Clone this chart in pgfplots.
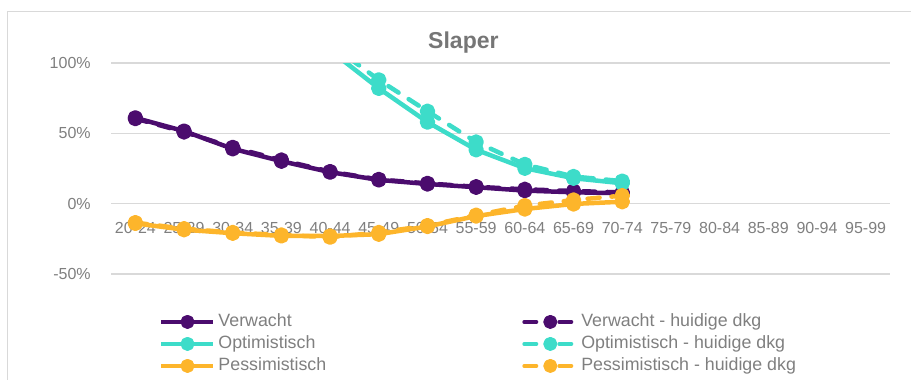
\documentclass[border=0pt]{standalone}
\usepackage{fontspec}
\setmainfont{Liberation Sans}
\usepackage{pgfplots}
\pgfplotsset{compat=1.18}

\definecolor{verw}{HTML}{4B0C6E}
\definecolor{opt}{HTML}{3DDCC9}
\definecolor{pess}{HTML}{FDB52B}
\definecolor{txtgray}{HTML}{7F7F7F}
\definecolor{titlegray}{HTML}{767676}
\definecolor{gridgray}{HTML}{D9D9D9}

% age classes 20-24 ... 95-99 plotted at 0..15
\pgfplotstableread{
x v vd
0 61.0 60.5
1 51.6 51.0
2 39.0 40.0
3 30.2 31.0
4 22.4 22.8
5 16.9 17.2
6 14.0 14.4
7 11.7 12.0
8 9.3 10.2
9 8.1 9.0
10 7.4 8.0
}\verwacht

\pgfplotstableread{
x o od
4 109.0 113.5
5 82.0 88.0
6 58.0 65.7
7 38.3 43.8
8 25.2 27.9
9 18.1 19.3
10 14.5 16.0
}\optimistisch

\pgfplotstableread{
x p pd
0 -14.0 -13.5
1 -18.5 -17.8
2 -21.0 -20.5
3 -22.9 -22.3
4 -23.0 -23.8
5 -21.7 -20.5
6 -16.2 -15.6
7 -8.8 -8.2
8 -3.8 -1.4
9 -0.2 2.6
10 1.4 5.7
}\pessimistisch

\pgfplotsset{
  solidser/.style={line width=4.5pt, line join=round, mark=*, mark size=5.5pt,
    mark options={solid}},
  dashser/.style={line width=4.5pt, line join=round, line cap=round,
    dash pattern=on 12pt off 12pt, mark=*, mark size=5.5pt, mark options={solid},
    legend image post style={dash pattern=on 12pt off 23pt}},
}

\begin{document}
\begin{tikzpicture}
\path[use as bounding box] (0pt,0pt) rectangle (911pt,-380pt);
\draw[gridgray, line width=1.5pt] (7.5pt,-380pt) -- (7.5pt,-11.5pt) -- (911pt,-11.5pt);
\node[anchor=base, text=titlegray, inner sep=0pt] at (463.4pt,-48.3pt)
  {\fontsize{23}{27}\selectfont\bfseries Slaper};
\begin{axis}[
  at={(111pt,-274pt)}, anchor=south west,
  scale only axis, width=779pt, height=211pt,
  xmin=-0.5, xmax=15.5, ymin=-50, ymax=100,
  axis x line=middle, axis y line=left,
  axis line style={draw=none},
  major tick style={draw=none},
  xtick={0,...,15},
  xticklabels={20-24,25-29,30-34,35-39,40-44,45-49,50-54,55-59,60-64,65-69,70-74,75-79,80-84,85-89,90-94,95-99},
  ytick={-50,0,50,100},
  yticklabels={-50\%,0\%,50\%,100\%},
  ymajorgrids, grid style={gridgray, line width=1.5pt},
  tick label style={text=txtgray, font=\fontsize{16}{19}\selectfont},
  xticklabel style={anchor=north, inner sep=0pt, yshift=-16pt},
  yticklabel style={anchor=east, inner sep=0pt, xshift=-18pt},
  clip=true,
  legend columns=2,
  legend style={draw=none, fill=none, text=txtgray,
    font=\fontsize{17.8}{21}\selectfont,
    at={(rel axis cs:0.062,-0.174)}, anchor=north west,
    inner sep=0pt, row sep=0pt,
    nodes={inner sep=3pt, text height=12.5pt, text depth=3.5pt},
    /tikz/every even column/.append style={column sep=193pt}},
  legend cell align=left,
  legend image code/.code={
    \draw[mark repeat=2, mark phase=2, #1, mark size=5pt, line width=4pt]
      plot coordinates {(0pt,0pt) (26pt,0pt) (52pt,0pt)};},
]
\addplot[solidser, verw] table[x=x, y=v] {\verwacht};
\addlegendentry{Verwacht}
\addplot[dashser, verw] table[x=x, y=vd] {\verwacht};
\addlegendentry{Verwacht - huidige dkg}
\addplot[solidser, opt] table[x=x, y=o] {\optimistisch};
\addlegendentry{Optimistisch}
\addplot[dashser, opt] table[x=x, y=od] {\optimistisch};
\addlegendentry{Optimistisch - huidige dkg}
\addplot[solidser, pess] table[x=x, y=p] {\pessimistisch};
\addlegendentry{Pessimistisch}
\addplot[dashser, pess] table[x=x, y=pd] {\pessimistisch};
\addlegendentry{Pessimistisch - huidige dkg}
\end{axis}
\end{tikzpicture}
\end{document}
